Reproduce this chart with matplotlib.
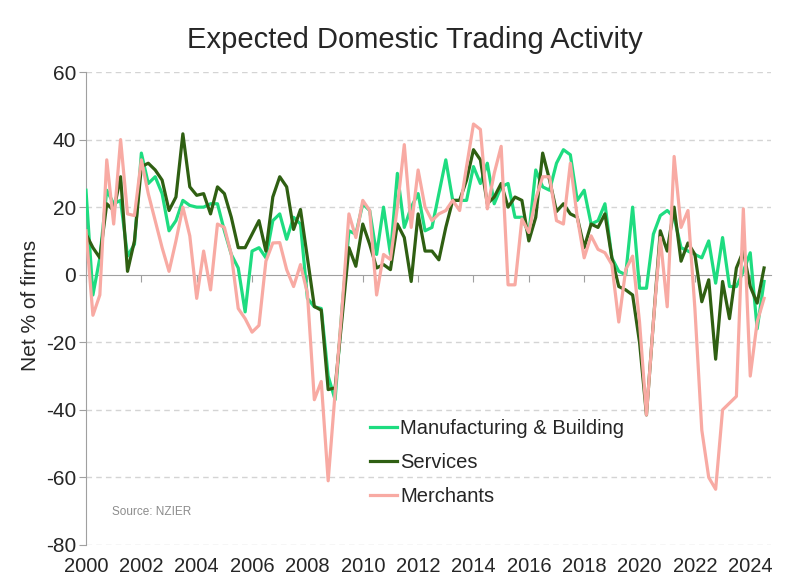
import numpy as np
import matplotlib.pyplot as plt

# quarterly, 2000Q1 .. 2024Q3
years = [str(y) for y in range(2000, 2025, 2)]

manufacturing = [25, -6, 5, 25, 21, 22, 5.5, 9, 36, 27, 29, 24, 13, 16, 22, 20.5,
                 20, 20, 21, 21, 13, 6, 2, -11, 7, 8, 5, 16, 18, 10.5, 17, 15,
                 -7, -9.5, -10, -30, -37, -10, 13, 12, 21, 19, 6, 20, 6, 30, 14, 20,
                 24, 13, 14, 24, 34, 22, 22, 22, 32, 27, 33, 21, 26, 27, 17, 17,
                 12, 31, 26, 25, 33, 37, 35.5, 22, 25, 15, 16, 21, 5, 1, 0, 20,
                 -4, -4, 12, 17.5, 19, 17, 8, 7, 6, 5, 10, -2.5, 11, -3.5, -3.5, 1,
                 6.5, -16, -2]

services = [12, 8, 5, 21, 19, 29, 1, 10, 32, 33, 31, 28, 19, 23, 41.7, 26,
            23.5, 24, 18, 26, 24, 17, 8, 8, 12, 16, 7, 23, 29, 26, 13.4, 19.3,
            5, -9.4, -10.5, -34, -33.5, -13, 8, 2.5, 15, 9, 2, 3, 1.5, 15, 11, -2,
            18, 7, 7, 4.4, 14, 22, 22, 28, 37, 34, 21, 23, 27, 20, 23, 22,
            10, 17, 36, 28, 18.7, 21, 18, 17, 8, 15, 14, 18, 5, -3.5, -4.5, -6,
            -20, -41.5, -14, 13, 7, 20, 4, 9.4, 6, -8, -1.5, -25, -2, -13, 2, 7,
            -3.5, -8.4, 2]

merchants = [13, -12, -6, 34, 15, 40, 18, 17.5, 34, 24, 16, 8, 1, 10, 20, 11.5,
             -7, 7, -4.5, 15, 14, 6, -10, -13, -17, -15, 4, 9.4, 9.5, 1.5, -3.5, 3,
             -5.5, -37, -31.6, -61, -35, -10, 18, 11, 22, 19, -6, 6, 4.5, 20, 38.5, 14,
             31, 20, 16, 18, 19, 22, 19, 32, 44.6, 43, 19.5, 30, 38, -3, -3, 16.5,
             12.5, 22.5, 29, 29, 16, 15, 33, 17, 5, 11.5, 7.5, 6.5, 3, -14, 1.5, 5.5,
             -14, -41.5, -14, 11, -9.5, 35, 14, 19, -10, -46, -60, -63.5, -40, -38, -36, 19.5,
             -30, -14, -7]

plt.rcParams['axes.unicode_minus'] = False
plt.rcParams['font.family'] = ['Liberation Sans', 'DejaVu Sans']

x = np.arange(len(manufacturing))

fig = plt.figure(figsize=(8, 5.88), dpi=100)
ax = fig.add_axes([86/800, 1 - 545/588, 685/800, 473/588])

ax.plot(x, manufacturing, color='#1EDC80', lw=2.3, label='Manufacturing & Building', zorder=3)
ax.plot(x, services, color='#2F5F12', lw=2.3, label='Services', zorder=3)
ax.plot(x, merchants, color='#F8AAA3', lw=2.3, label='Merchants', zorder=3)

ax.set_xlim(0, 99)
ax.set_ylim(-80, 60)
ax.set_yticks(range(-80, 61, 20))
for v in range(-80, 61, 20):
    if v != 0:
        ax.axhline(v, color='#D4D4D4', lw=1, ls=(0, (4, 3)), zorder=1)

for s in ['top', 'right']:
    ax.spines[s].set_visible(False)
ax.spines['left'].set_color('#A0A0A0')
ax.spines['bottom'].set_color('#A0A0A0')
ax.spines['bottom'].set_position(('data', 0))

ax.set_xticks(range(0, 99, 8))
ax.tick_params(axis='x', direction='out', length=5, color='#A0A0A0', labelbottom=False)
ax.tick_params(axis='y', direction='out', length=5, color='#A0A0A0', pad=2,
               labelsize=15, labelcolor='#262626')

sec = ax.secondary_xaxis('bottom')
sec.set_xticks(range(0, 99, 8), labels=years)
sec.tick_params(length=0, pad=9, labelsize=14.5, labelcolor='#262626')
sec.spines['bottom'].set_visible(False)

fig.text(0.519, 1 - 40/588, 'Expected Domestic Trading Activity', ha='center', va='center',
         fontsize=21, color='#262626')
fig.text(30/800, 1 - 305/588, 'Net % of firms', rotation=90, ha='center', va='center',
         fontsize=15, color='#262626')
ax.text((112 - 86)/685, (545 - 512)/473, 'Source: NZIER', transform=ax.transAxes,
        ha='left', va='center', fontsize=8.5, color='#8C8C8C')

ax.legend(loc='upper left', bbox_to_anchor=((370 - 86)/685, (545 - 419)/473), frameon=False,
          prop={'size': 14.5}, handlelength=1.35, handletextpad=0.15,
          labelspacing=0.75, borderpad=0, borderaxespad=0, labelcolor='#262626')

fig.savefig('out.png', dpi=100)
